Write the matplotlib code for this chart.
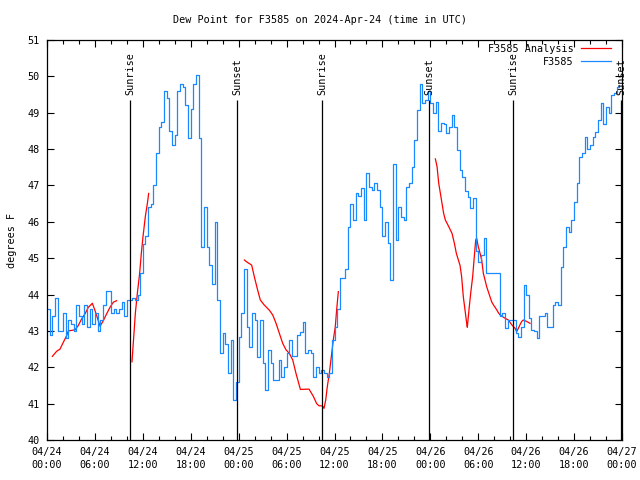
import numpy as np
import pandas as pd
import matplotlib
matplotlib.use('Agg')
import matplotlib.pyplot as plt
import matplotlib.dates as mdates

# Start of the plotted period (UTC)
start = pd.Timestamp('2024-04-24 00:00')

# Observed dew point, one value every 20 minutes (deg F)
obs_vals = [
    43.6, 42.9, 43.4, 43.9, 43.0, 43.0, 43.5, 42.8, 43.3, 43.2, 43.0, 43.7, 43.4, 43.2, 43.7, 43.1,
    43.6, 43.2, 43.5, 43.0, 43.3, 43.7, 44.1, 44.1, 43.5, 43.6, 43.5, 43.6, 43.8, 43.4, 43.85, 43.85,
    43.9, 43.85, 44.0, 44.6, 45.4, 45.6, 46.4, 46.5, 47.0, 47.9, 48.6, 48.75, 49.6, 49.4, 48.5, 48.1,
    48.4, 49.6, 49.8, 49.7, 49.2, 48.3, 49.1, 49.8, 50.05, 48.3, 45.3, 46.4, 45.3, 44.8, 44.3, 46.0,
    43.85, 42.4, 42.93, 42.65, 41.83, 42.75, 41.1, 41.6, 42.84, 43.48, 44.7, 43.1, 42.57, 43.48, 43.3,
    42.29, 43.3, 42.11, 41.38, 42.48, 42.11, 41.65, 41.65, 42.2, 41.74, 42.02, 42.38, 42.75, 42.3,
    42.3, 42.9, 42.96,
    43.25, 42.38, 42.47, 42.38, 41.74, 42.0, 41.83, 41.93, 41.83, 41.74, 41.83, 42.75, 43.12, 43.6,
    44.45, 44.45, 44.7, 45.85, 46.5, 46.05, 46.78, 46.7, 46.92, 46.05, 47.33, 46.97, 46.88, 47.06,
    46.88, 46.42, 45.6,
    46.0, 45.41, 44.4, 47.6, 45.5, 46.4, 46.14, 46.05, 46.97, 47.06, 47.5, 48.25, 49.08, 49.8, 49.26,
    49.35, 49.6, 49.26, 49.0, 49.3, 48.5, 48.71, 48.7, 48.43, 48.62, 48.94, 48.62, 47.98, 47.43,
    47.24, 46.85,
    46.69, 46.37, 46.65, 45.2, 44.9, 45.1, 45.55, 44.58, 44.58, 44.58, 44.58, 44.58, 43.4, 43.5,
    43.07, 43.3, 43.3, 43.3, 42.93, 42.84, 43.1, 44.26, 44.0, 43.35, 43.03, 43.0, 42.8, 43.4, 43.4,
    43.5, 43.1,
    43.1, 43.7, 43.8, 43.7, 44.77, 45.32, 45.87, 45.73, 46.05, 46.55, 47.06, 47.79, 47.88, 48.34,
    48.0, 48.1, 48.34, 48.48, 48.8, 49.26, 48.7, 49.17, 48.98, 49.5, 49.53, 49.72, 49.77,
]

# Analysis series: hours after start, NaN separates the runs
ana_hours = [
    0.67, 1.21, 1.63, 2.05, 2.46, 2.67, 3.51, 3.92, 4.34, 4.76, 5.18, 5.68, 6.01, 6.35, 6.64, 7.05,
    7.47, 7.89, 8.31, 8.72, np.nan,
    10.64, 10.89, 11.06, 11.31, 11.6, 11.81, 12.02, 12.31, 12.57, 12.73, np.nan,
    24.71, 25.13, 25.63, 25.96, 26.38, 26.71, 27.21, 27.84, 28.26, 28.68, 29.1, 29.51, 29.93, 30.35,
    30.77, 31.18, 31.73, 32.81, 33.35, 33.77, 34.06, 34.48, 34.69, 34.9, 35.1, 35.35, 35.6, 35.85,
    36.1, 36.27, 36.48, np.nan,
    48.63, 48.84, 49.05, 49.26, 49.46, 49.67, 49.88, 50.3, 50.72, 51.01, 51.26, 51.51, 51.72, 51.92,
    52.13, 52.34, 52.55, 52.63, 52.88, 53.05, 53.3, 53.47, 53.68, 53.8, 54.0, 54.22, 54.43, 54.64,
    54.85, 55.05, 55.26, 55.47, 55.68, 55.89, 56.31, 56.52, 56.73, 57.06, 57.35, 57.77, 58.19, 58.61,
    58.81, 59.02, 59.23, 59.44, 59.65, 60.06, 60.48,
]
ana_vals = [
    42.3, 42.44, 42.5, 42.69, 42.87, 43.0, 43.03, 43.15, 43.33, 43.47, 43.65, 43.76, 43.56, 43.33,
    43.13, 43.28, 43.47, 43.65, 43.79, 43.83, np.nan,
    42.15, 42.93, 43.48, 44.03, 44.58, 45.13, 45.59, 46.14, 46.51, 46.78, np.nan,
    44.95, 44.88, 44.81, 44.49, 44.12, 43.85, 43.71, 43.57, 43.44, 43.21, 42.93, 42.66, 42.48, 42.38,
    42.2, 41.83, 41.39, 41.4, 41.2, 41.0, 40.94, 40.94, 40.87, 41.1, 41.47, 41.83, 42.29, 42.75,
    43.12, 43.58, 44.08, np.nan,
    47.73, 47.52, 47.06, 46.78, 46.51, 46.23, 46.05, 45.87, 45.68, 45.41, 45.13, 44.95, 44.8, 44.49,
    43.94, 43.58, 43.21, 43.1, 43.67, 44.03, 44.49, 44.95, 45.5, 45.55, 45.32, 45.14, 44.95, 44.58,
    44.4, 44.22, 44.08, 43.94, 43.8, 43.72, 43.58, 43.5, 43.44, 43.39, 43.35, 43.3, 43.17, 43.07,
    42.98, 43.07, 43.17, 43.26, 43.3, 43.26, 43.21,
]

sun_labels = ['Sunrise', 'Sunset', 'Sunrise', 'Sunset', 'Sunrise', 'Sunset']
sun_times = ['2024-04-24 10:23', '2024-04-24 23:50', '2024-04-25 10:28',
             '2024-04-25 23:52', '2024-04-26 10:24', '2024-04-26 23:54']

plt.rcParams['font.family'] = ['DejaVu Sans Mono']
plt.rcParams['font.size'] = 7.3

t0 = mdates.date2num(start)
obs_x = t0 + np.arange(len(obs_vals)) / 72.0
ana_x = t0 + np.array(ana_hours) / 24.0

fig = plt.figure(figsize=(6.4, 4.8), dpi=100)
ax = fig.add_axes([47 / 640, 40 / 480, 575 / 640, 400 / 480])

ax.plot(ana_x, ana_vals, color='#ff0000', lw=0.9, label='F3585 Analysis')
ax.plot(obs_x, obs_vals, color='#1a88ff', lw=0.9, drawstyle='steps-post', label='F3585')

# sunrise / sunset markers
for lab, ts in zip(sun_labels, sun_times):
    sx = mdates.date2num(pd.Timestamp(ts))
    ax.vlines(sx, 40, 49.35, color='black', lw=0.9)
    ax.text(sx, 49.5, lab, rotation=90, ha='center', va='bottom', clip_on=False)

ax.set_xlim(t0, t0 + 3)
ax.set_ylim(40, 51)
ax.set_yticks(range(40, 52))
ax.xaxis.set_major_locator(mdates.HourLocator(byhour=[0, 6, 12, 18]))
ax.xaxis.set_minor_locator(mdates.HourLocator(interval=2))
ax.xaxis.set_major_formatter(mdates.DateFormatter('%m/%d\n%H:%M'))
ax.tick_params(which='both', direction='in', top=True, right=True, width=0.8)
ax.tick_params(which='major', length=5, pad=5)
ax.tick_params(which='minor', length=3)
for lbl in ax.get_xticklabels():
    lbl.set_linespacing(1.35)
for s in ax.spines.values():
    s.set_linewidth(0.9)

ax.set_ylabel('degrees F', labelpad=8)
fig.text(0.5, 1 - 20 / 480, 'Dew Point for F3585 on 2024-Apr-24 (time in UTC)',
         ha='center', va='center')

ax.legend(loc='upper right', bbox_to_anchor=(611 / 640, 1 - 44 / 480),
          bbox_transform=fig.transFigure, frameon=False, markerfirst=False,
          handlelength=3, handletextpad=0.7, labelspacing=0.3,
          borderpad=0, borderaxespad=0)

plt.savefig('out.png', dpi=100)
plt.close()
